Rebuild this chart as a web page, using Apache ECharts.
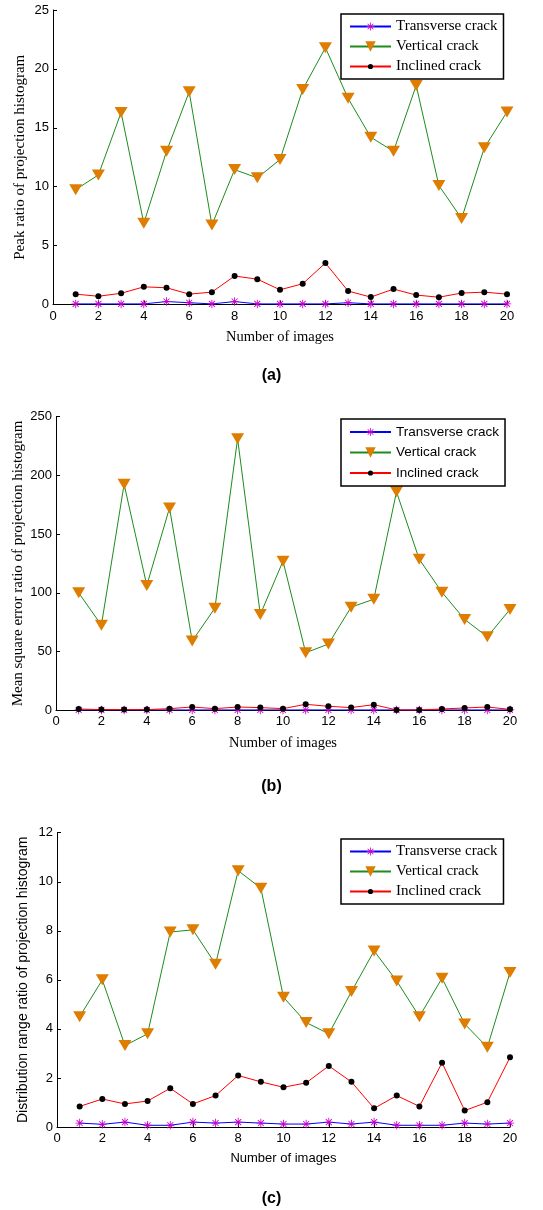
<!DOCTYPE html>
<html>
<head>
<meta charset="utf-8">
<script src="https://cdn.jsdelivr.net/npm/echarts@6/dist/echarts.min.js"></script>
<style>
html,body{margin:0;padding:0;background:#fff;}
#chart{width:543px;height:1210px;}
</style>
</head>
<body>
<div id="chart"></div>
<script>
const images = [1,2,3,4,5,6,7,8,9,10,11,12,13,14,15,16,17,18,19,20];
const seriesNames = ['Transverse crack','Vertical crack','Inclined crack'];

// (a) Peak ratio of projection histogram
const peakTransverse = [0.05,0.05,0.05,0.05,0.25,0.15,0.05,0.25,0.05,0.05,0.05,0.05,0.15,0.05,0.05,0.05,0.05,0.05,0.05,0.05];
const peakVertical   = [9.75,11.0,16.3,6.9,13.0,18.05,6.75,11.45,10.75,12.3,18.25,21.8,17.5,14.2,13.0,18.6,10.1,7.3,13.3,16.35];
const peakInclined   = [0.88,0.7,0.95,1.5,1.42,0.88,1.05,2.42,2.15,1.25,1.76,3.52,1.14,0.63,1.31,0.8,0.62,0.97,1.05,0.88];

// (b) Mean square error ratio of projection histogram
const mseTransverse = [0.3,0.3,0.3,0.3,0.3,0.3,0.3,0.3,0.3,0.3,0.3,0.3,0.3,0.3,0.3,0.3,0.3,0.3,0.3,0.3];
const mseVertical   = [100,72.5,192.5,106.3,172.3,59,87,231.3,81.6,127,49,56.4,87.8,94.6,186,128.7,100.6,77.4,62.6,85.9];
const mseInclined   = [1.1,0.6,0.6,0.6,1.4,2.8,1.4,2.8,2.3,1.4,5.1,3.4,2.3,4.8,0.3,0.3,1.1,2.0,2.8,0.8];

// (c) Distribution range ratio of projection histogram
const drTransverse = [0.16,0.11,0.2,0.07,0.07,0.2,0.16,0.2,0.16,0.12,0.12,0.2,0.12,0.2,0.07,0.07,0.07,0.16,0.12,0.16];
const drVertical   = [4.5,6.0,3.32,3.8,7.95,8.04,6.64,10.45,9.74,5.29,4.26,3.8,5.52,7.18,5.95,4.5,6.07,4.2,3.25,6.3];
const drInclined   = [0.84,1.14,0.94,1.06,1.58,0.94,1.28,2.1,1.84,1.62,1.8,2.49,1.84,0.76,1.28,0.84,2.62,0.67,1.01,2.84];

const xTicks = {min:0, max:20, interval:2};
const yTitles = ['Peak ratio of projection histogram','Mean square error ratio of projection histogram','Distribution range ratio of projection histogram'];
const xTitle = 'Number of images';
const captions = ['(a)','(b)','(c)'];
const yScales = [{min:0,max:25,interval:5},{min:0,max:250,interval:50},{min:0,max:12,interval:2}];

const SERIF = 'Liberation Serif, Times New Roman, serif';
const SANS = 'Liberation Sans, Arial, sans-serif';

// asterisk (+ and x), padded box so the legend copy is small
const asterisk = 'path://M-3,-3 M23,23 M9,0 L11,0 L11,20 L9,20 Z M0,9 L20,9 L20,11 L0,11 Z M3.64,2.22 L17.78,16.36 L16.36,17.78 L2.22,3.64 Z M16.36,2.22 L17.78,3.64 L3.64,17.78 L2.22,16.36 Z';
// small dot inside a padded box
const dot = 'path://M0,0 M20,20 M10,5 A5,5 0 1,1 10,15 A5,5 0 1,1 10,5 Z';

const panels = [
  {data:[peakTransverse,peakVertical,peakInclined], grid:{left:53, top:10, width:454, height:294.5},
   yFont:SERIF, yFs:15, yX:20, xFont:SERIF, xFs:14.5, legFont:SERIF, legFs:15, legGap:5, legPad:[5,6,5,8], legTop:14, capTop:368},
  {data:[mseTransverse,mseVertical,mseInclined], grid:{left:56, top:416.7, width:454, height:293.6},
   yFont:SERIF, yFs:15, yX:18, xFont:SERIF, xFs:14.5, legFont:SANS, legFs:13.5, legGap:6.5, legPad:[6,6,6,8], legTop:419, capTop:779},
  {data:[drTransverse,drVertical,drInclined], grid:{left:57, top:832.7, width:453, height:294.3},
   yFont:SANS, yFs:14, yX:23, xFont:SANS, xFs:13, legFont:SERIF, legFs:15, legGap:5, legPad:[5,6,5,8], legTop:839, capTop:1191}
];

const grids=[], xAxes=[], yAxes=[], series=[], legends=[], titles=[], graphics=[];
panels.forEach((p,i)=>{
  grids.push(p.grid);
  xAxes.push({type:'value', gridIndex:i, min:xTicks.min, max:xTicks.max, interval:xTicks.interval,
    name:xTitle, nameLocation:'middle', nameGap:25,
    nameTextStyle:{fontFamily:p.xFont, fontSize:p.xFs, color:'#000'},
    axisLine:{lineStyle:{color:'#000', width:1}},
    axisTick:{inside:true, length:4, lineStyle:{color:'#000'}},
    axisLabel:{fontFamily:SANS, fontSize:13, color:'#000', margin:5},
    splitLine:{show:false}});
  yAxes.push({type:'value', gridIndex:i, min:yScales[i].min, max:yScales[i].max, interval:yScales[i].interval,
    axisLine:{show:true, lineStyle:{color:'#000', width:1}},
    axisTick:{show:true, inside:true, length:4, lineStyle:{color:'#000'}},
    axisLabel:{fontFamily:SANS, fontSize:13, color:'#000', margin:4},
    splitLine:{show:false}});
  graphics.push({type:'text', x:p.yX, y:p.grid.top + p.grid.height/2, rotation:Math.PI/2, silent:true,
    style:{text:yTitles[i], fill:'#000', font:p.yFs + 'px ' + p.yFont, textAlign:'center', textVerticalAlign:'middle'}});
  const [tr, ve, inc] = p.data;
  series.push({name:seriesNames[0], type:'line', xAxisIndex:i, yAxisIndex:i,
    data:images.map((x,k)=>[x,tr[k]]), symbol:asterisk, symbolSize:11, symbolKeepAspect:true,
    lineStyle:{color:'#0000ff', width:1}, itemStyle:{color:'#cc00cc'}, animation:false, z:2});
  series.push({name:seriesNames[1], type:'line', xAxisIndex:i, yAxisIndex:i,
    data:images.map((x,k)=>[x,ve[k]]), symbol:'triangle', symbolRotate:180, symbolSize:[13,11],
    lineStyle:{color:'#1e8c1e', width:1}, itemStyle:{color:'#de7d00'}, animation:false, z:3});
  series.push({name:seriesNames[2], type:'line', xAxisIndex:i, yAxisIndex:i,
    data:images.map((x,k)=>[x,inc[k]]), symbol:dot, symbolSize:12, symbolKeepAspect:true,
    lineStyle:{color:'#ff0000', width:1}, itemStyle:{color:'#000'}, animation:false, z:4});
  legends.push({data:seriesNames, orient:'vertical', left:341, top:p.legTop,
    itemWidth:41, itemHeight:13, itemGap:p.legGap, padding:p.legPad,
    borderColor:'#000', borderWidth:1.5, backgroundColor:'#fff',
    textStyle:{fontFamily:p.legFont, fontSize:p.legFs, color:'#000'}});
  titles.push({text:captions[i], left:'center', top:p.capTop, padding:0,
    textStyle:{fontFamily:SANS, fontSize:16, fontWeight:'bold', color:'#000'}});
});

const chart = echarts.init(document.getElementById('chart'), null, {renderer:'canvas'});
chart.setOption({animation:false, backgroundColor:'#fff', title:titles, grid:grids, xAxis:xAxes, yAxis:yAxes, legend:legends, series:series, graphic:graphics});
</script>
</body>
</html>
